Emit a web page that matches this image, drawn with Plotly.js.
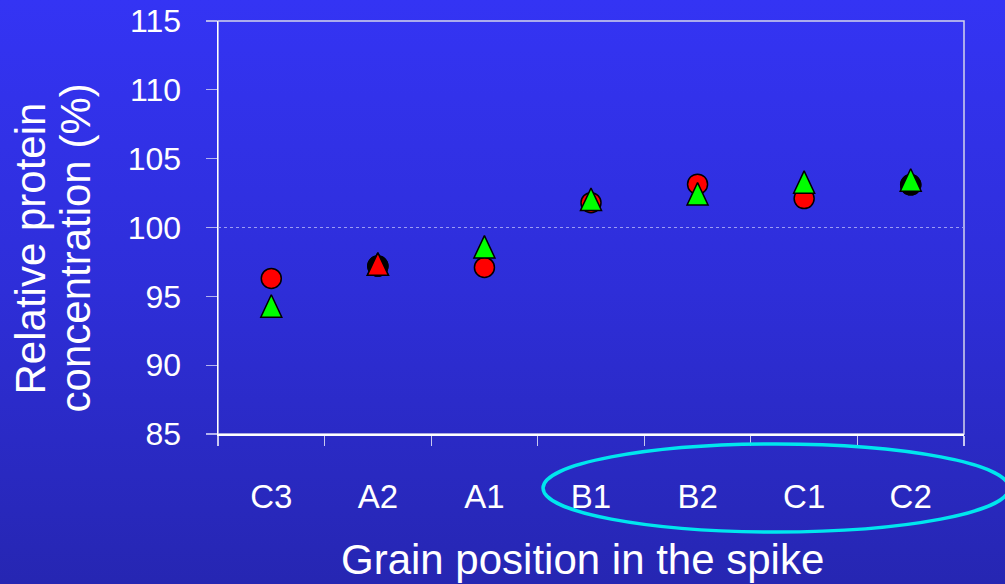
<!DOCTYPE html>
<html>
<head>
<meta charset="utf-8">
<script src="https://cdn.plot.ly/plotly-3.0.1.min.js"></script>
<style>
  html, body { margin: 0; padding: 0; }
  body {
    width: 1005px; height: 584px; overflow: hidden;
    background: linear-gradient(to bottom, #3434f4 0%, #2e2ed8 50%, #2626b2 100%);
  }
  #chart { width: 1005px; height: 584px; }
</style>
</head>
<body>
<div id="chart"></div>
<script>
// Grain positions along the spike
const positions = ['C3', 'A2', 'A1', 'B1', 'B2', 'C1', 'C2'];

// Relative protein concentration (%) per grain position
const redCircles     = [96.3, 97.2, 97.1, 101.8, 103.15, 102.1, 103.1];
const blackCircles   = [null, 97.2, null, null, null, null, 103.1];
const greenTriangles = [94.3, 97.35, 98.6, 102.05, 102.45, 103.3, 103.45];
const redTriangles   = [null, 97.35, null, null, null, null, null];

// Reference level (100 %)
const referenceLevel = 100;

const font = 'Liberation Sans, Arial, sans-serif';
const outline = { color: '#000000', width: 1.5 };

function circleTrace(values, color) {
  return {
    type: 'scatter', mode: 'markers', x: positions, y: values,
    marker: { symbol: 'circle', size: 20, color: color, line: outline },
    hoverinfo: 'x+y', cliponaxis: false
  };
}
function triangleTrace(values, color) {
  return {
    type: 'scatter', mode: 'markers', x: positions, y: values,
    marker: { symbol: 'triangle-up', size: 20, color: color, line: outline },
    hoverinfo: 'x+y', cliponaxis: false
  };
}

const data = [
  circleTrace(redCircles, '#ff0000'),
  circleTrace(blackCircles, '#000000'),
  triangleTrace(greenTriangles, '#00ff00'),
  triangleTrace(redTriangles, '#ff0000')
];

const titleFont = { family: font, size: 42, color: '#ffffff' };

const layout = {
  width: 1005, height: 584,
  margin: { l: 218, r: 41, t: 21, b: 150, pad: 0 },
  paper_bgcolor: 'rgba(0,0,0,0)',
  plot_bgcolor: 'rgba(0,0,0,0)',
  showlegend: false,
  font: { family: font, color: '#ffffff' },
  xaxis: {
    type: 'category', categoryarray: positions, range: [-0.5, 6.5],
    tickson: 'boundaries', ticks: 'outside', ticklen: 10, tickwidth: 1.2,
    tickcolor: '#c8c8f0',
    showline: true, linecolor: '#ffffff', linewidth: 1.5,
    showgrid: false, zeroline: false,
    tickfont: { family: font, size: 33, color: '#ffffff' },
    ticklabelstandoff: 33, fixedrange: true
  },
  yaxis: {
    range: [85, 115], tick0: 85, dtick: 5,
    ticks: 'outside', ticklen: 11, tickwidth: 1.2, tickcolor: '#b4b4ee',
    showline: true, linecolor: '#ffffff', linewidth: 1.5,
    showgrid: false, zeroline: false,
    tickfont: { family: font, size: 32, color: '#ffffff' },
    ticklabelstandoff: 18, fixedrange: true
  },
  shapes: [
    // frame (top and right edges)
    { type: 'rect', xref: 'paper', yref: 'paper', x0: 0, x1: 1, y0: 0, y1: 1,
      line: { color: '#d4d4ec', width: 1.5 }, layer: 'below' },
    // dotted reference line
    { type: 'line', xref: 'paper', yref: 'y', x0: 0, x1: 1,
      y0: referenceLevel, y1: referenceLevel,
      line: { color: '#9c9cf4', width: 1, dash: 'dot' }, layer: 'below' },
    // highlight around the B and C positions
    { type: 'circle', xref: 'paper', yref: 'paper',
      x0: 0.4357, x1: 1.0603, y0: -0.2373, y1: -0.0242,
      line: { color: '#00e6ee', width: 3.5 } }
  ],
  annotations: [
    { xref: 'paper', yref: 'paper', x: -0.2516, y: 0.45, textangle: -90,
      xanchor: 'center', yanchor: 'middle', showarrow: false,
      text: 'Relative protein', font: titleFont },
    { xref: 'paper', yref: 'paper', x: -0.1913, y: 0.45, textangle: -90,
      xanchor: 'center', yanchor: 'middle', showarrow: false,
      text: 'concentration (%)', font: titleFont },
    { xref: 'paper', yref: 'paper', x: 0.489, y: -0.305,
      xanchor: 'center', yanchor: 'middle', showarrow: false,
      text: 'Grain position in the spike', font: titleFont }
  ]
};

Plotly.newPlot('chart', data, layout, { displayModeBar: false, staticPlot: true }).then(function (gd) {
  // narrower, taller triangles centred on the value
  const traces = gd.querySelectorAll('.scatterlayer .trace');
  [2, 3].forEach(function (i) {
    if (!traces[i]) return;
    traces[i].querySelectorAll('path.point').forEach(function (p) {
      p.setAttribute('d', 'M-10.5,11.2H10.5L0,-11.2Z');
    });
  });
});
</script>
</body>
</html>
